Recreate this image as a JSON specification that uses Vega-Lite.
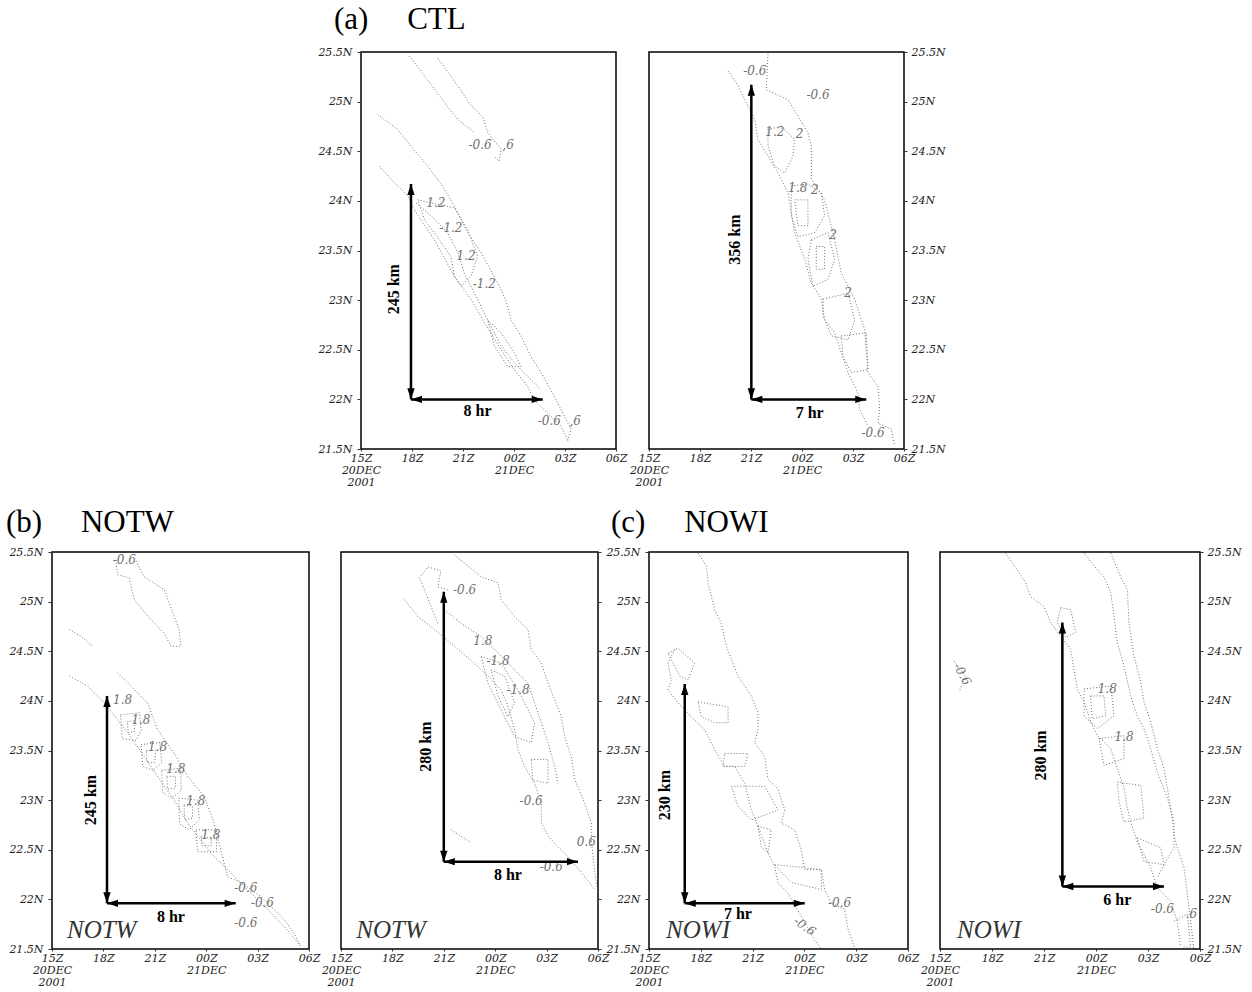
{
"$schema": "https://vega.github.io/schema/vega-lite/v6.json",
"background": "white",
"padding": {"left": 5, "top": 3, "right": 5, "bottom": 5},
"datasets": {
"lines": [
{"p":"p1","g":"1a","t":2.84,"lat":25.46},{"p":"p1","g":"1a","t":3.73,"lat":25.26},{"p":"p1","g":"1a","t":5.10,"lat":24.95},{"p":"p1","g":"1a","t":5.69,"lat":24.82},{"p":"p1","g":"1a","t":6.67,"lat":24.69},
{"p":"p1","g":"1b","t":4.51,"lat":25.44},{"p":"p1","g":"1b","t":5.69,"lat":25.16},{"p":"p1","g":"1b","t":6.47,"lat":24.96},{"p":"p1","g":"1b","t":7.16,"lat":24.85},{"p":"p1","g":"1b","t":7.45,"lat":24.69},{"p":"p1","g":"1b","t":8.24,"lat":24.52},{"p":"p1","g":"1b","t":8.14,"lat":24.40},{"p":"p1","g":"1b","t":7.84,"lat":24.45},
{"p":"p1","g":"1c","t":0.98,"lat":24.87},{"p":"p1","g":"1c","t":2.16,"lat":24.72},{"p":"p1","g":"1c","t":2.94,"lat":24.55},{"p":"p1","g":"1c","t":3.92,"lat":24.35},{"p":"p1","g":"1c","t":4.71,"lat":24.17},{"p":"p1","g":"1c","t":5.49,"lat":23.95},{"p":"p1","g":"1c","t":6.27,"lat":23.68},{"p":"p1","g":"1c","t":7.06,"lat":23.48},{"p":"p1","g":"1c","t":8.24,"lat":23.11},{"p":"p1","g":"1c","t":8.63,"lat":22.94},{"p":"p1","g":"1c","t":8.82,"lat":22.80},{"p":"p1","g":"1c","t":9.41,"lat":22.64},{"p":"p1","g":"1c","t":10.0,"lat":22.43},{"p":"p1","g":"1c","t":10.59,"lat":22.27},{"p":"p1","g":"1c","t":11.37,"lat":22.03},{"p":"p1","g":"1c","t":11.76,"lat":21.90},{"p":"p1","g":"1c","t":12.35,"lat":21.70},{"p":"p1","g":"1c","t":12.16,"lat":21.58},
{"p":"p1","g":"1d","t":1.08,"lat":24.35},{"p":"p1","g":"1d","t":1.76,"lat":24.22},{"p":"p1","g":"1d","t":2.75,"lat":24.05},{"p":"p1","g":"1d","t":3.24,"lat":23.88},{"p":"p1","g":"1d","t":4.31,"lat":23.61},{"p":"p1","g":"1d","t":5.49,"lat":23.24},{"p":"p1","g":"1d","t":6.47,"lat":23.01},{"p":"p1","g":"1d","t":7.16,"lat":22.80},{"p":"p1","g":"1d","t":8.24,"lat":22.50},{"p":"p1","g":"1d","t":9.02,"lat":22.30},{"p":"p1","g":"1d","t":9.8,"lat":22.13},{"p":"p1","g":"1d","t":10.2,"lat":21.99},{"p":"p1","g":"1d","t":10.98,"lat":21.86},{"p":"p1","g":"1d","t":11.76,"lat":21.73},{"p":"p1","g":"1d","t":12.16,"lat":21.59},
{"p":"p1","g":"1e","t":3.24,"lat":23.98},{"p":"p1","g":"1e","t":4.12,"lat":23.85},{"p":"p1","g":"1e","t":5.1,"lat":23.68},{"p":"p1","g":"1e","t":5.69,"lat":23.48},{"p":"p1","g":"1e","t":6.08,"lat":23.27},{"p":"p1","g":"1e","t":6.67,"lat":23.07},{"p":"p1","g":"1e","t":7.45,"lat":22.80},{"p":"p1","g":"1e","t":8.24,"lat":22.54},{"p":"p1","g":"1e","t":9.02,"lat":22.37},{"p":"p1","g":"1e","t":9.8,"lat":22.23},{"p":"p1","g":"1e","t":10.59,"lat":22.10},
{"p":"p1","g":"1f","t":3.33,"lat":24.01},{"p":"p1","g":"1f","t":5.49,"lat":23.93},{"p":"p1","g":"1f","t":6.27,"lat":23.71},{"p":"p1","g":"1f","t":6.86,"lat":23.44},{"p":"p1","g":"1f","t":6.47,"lat":23.24},{"p":"p1","g":"1f","t":5.88,"lat":23.14},{"p":"p1","g":"1f","t":5.49,"lat":23.24},{"p":"p1","g":"1f","t":5.29,"lat":23.44},{"p":"p1","g":"1f","t":4.31,"lat":23.68},{"p":"p1","g":"1f","t":3.73,"lat":23.81},{"p":"p1","g":"1f","t":3.33,"lat":24.01},
{"p":"p1","g":"1g","t":7.45,"lat":22.80},{"p":"p1","g":"1g","t":8.24,"lat":22.67},{"p":"p1","g":"1g","t":9.02,"lat":22.47},{"p":"p1","g":"1g","t":9.41,"lat":22.33},{"p":"p1","g":"1g","t":8.63,"lat":22.33},{"p":"p1","g":"1g","t":7.84,"lat":22.54},{"p":"p1","g":"1g","t":7.45,"lat":22.80},

{"p":"p2","g":"2a","t":4.65,"lat":25.31},{"p":"p2","g":"2a","t":5.24,"lat":25.16},{"p":"p2","g":"2a","t":5.63,"lat":25.02},{"p":"p2","g":"2a","t":6.22,"lat":24.82},{"p":"p2","g":"2a","t":6.41,"lat":24.62},{"p":"p2","g":"2a","t":7.0,"lat":24.45},{"p":"p2","g":"2a","t":7.59,"lat":24.28},{"p":"p2","g":"2a","t":8.18,"lat":24.08},{"p":"p2","g":"2a","t":8.37,"lat":23.88},{"p":"p2","g":"2a","t":8.57,"lat":23.68},{"p":"p2","g":"2a","t":9.16,"lat":23.41},{"p":"p2","g":"2a","t":9.55,"lat":23.17},{"p":"p2","g":"2a","t":10.14,"lat":23.01},{"p":"p2","g":"2a","t":10.33,"lat":22.80},{"p":"p2","g":"2a","t":10.92,"lat":22.67},{"p":"p2","g":"2a","t":11.31,"lat":22.47},{"p":"p2","g":"2a","t":11.71,"lat":22.27},{"p":"p2","g":"2a","t":12.29,"lat":22.06},{"p":"p2","g":"2a","t":12.39,"lat":21.90},{"p":"p2","g":"2a","t":12.88,"lat":21.73},
{"p":"p2","g":"2b","t":7.0,"lat":25.48},{"p":"p2","g":"2b","t":6.9,"lat":25.12},{"p":"p2","g":"2b","t":8.18,"lat":25.02},{"p":"p2","g":"2b","t":9.35,"lat":24.69},{"p":"p2","g":"2b","t":9.55,"lat":24.55},{"p":"p2","g":"2b","t":9.55,"lat":24.22},{"p":"p2","g":"2b","t":10.33,"lat":24.01},{"p":"p2","g":"2b","t":10.92,"lat":23.61},{"p":"p2","g":"2b","t":11.31,"lat":23.27},{"p":"p2","g":"2b","t":12.1,"lat":23.01},{"p":"p2","g":"2b","t":12.69,"lat":22.70},{"p":"p2","g":"2b","t":12.78,"lat":22.50},{"p":"p2","g":"2b","t":12.88,"lat":22.27},{"p":"p2","g":"2b","t":13.47,"lat":22.13},{"p":"p2","g":"2b","t":13.57,"lat":21.90},{"p":"p2","g":"2b","t":13.47,"lat":21.76},{"p":"p2","g":"2b","t":14.25,"lat":21.70},{"p":"p2","g":"2b","t":14.45,"lat":21.53},
{"p":"p2","g":"2c","t":7.0,"lat":24.72},{"p":"p2","g":"2c","t":7.78,"lat":24.75},{"p":"p2","g":"2c","t":8.57,"lat":24.62},{"p":"p2","g":"2c","t":8.47,"lat":24.45},{"p":"p2","g":"2c","t":7.98,"lat":24.28},{"p":"p2","g":"2c","t":7.39,"lat":24.35},{"p":"p2","g":"2c","t":7.0,"lat":24.55},{"p":"p2","g":"2c","t":7.0,"lat":24.72},
{"p":"p2","g":"2d","t":8.37,"lat":24.15},{"p":"p2","g":"2d","t":9.35,"lat":24.17},{"p":"p2","g":"2d","t":10.14,"lat":24.08},{"p":"p2","g":"2d","t":10.33,"lat":23.85},{"p":"p2","g":"2d","t":9.75,"lat":23.68},{"p":"p2","g":"2d","t":8.76,"lat":23.64},{"p":"p2","g":"2d","t":8.37,"lat":23.85},{"p":"p2","g":"2d","t":8.37,"lat":24.15},
{"p":"p2","g":"2e","t":8.57,"lat":24.01},{"p":"p2","g":"2e","t":9.35,"lat":24.01},{"p":"p2","g":"2e","t":9.35,"lat":23.75},{"p":"p2","g":"2e","t":8.76,"lat":23.75},{"p":"p2","g":"2e","t":8.57,"lat":24.01},
{"p":"p2","g":"2f","t":9.55,"lat":23.61},{"p":"p2","g":"2f","t":10.53,"lat":23.68},{"p":"p2","g":"2f","t":10.92,"lat":23.41},{"p":"p2","g":"2f","t":10.53,"lat":23.21},{"p":"p2","g":"2f","t":9.65,"lat":23.14},{"p":"p2","g":"2f","t":9.35,"lat":23.41},{"p":"p2","g":"2f","t":9.55,"lat":23.61},
{"p":"p2","g":"2g","t":9.84,"lat":23.54},{"p":"p2","g":"2g","t":10.33,"lat":23.54},{"p":"p2","g":"2g","t":10.33,"lat":23.31},{"p":"p2","g":"2g","t":9.84,"lat":23.31},{"p":"p2","g":"2g","t":9.84,"lat":23.54},
{"p":"p2","g":"2h","t":10.24,"lat":23.01},{"p":"p2","g":"2h","t":11.71,"lat":23.07},{"p":"p2","g":"2h","t":12.1,"lat":22.80},{"p":"p2","g":"2h","t":11.71,"lat":22.60},{"p":"p2","g":"2h","t":10.73,"lat":22.64},{"p":"p2","g":"2h","t":10.24,"lat":22.84},{"p":"p2","g":"2h","t":10.24,"lat":23.01},
{"p":"p2","g":"2i","t":11.31,"lat":22.64},{"p":"p2","g":"2i","t":12.78,"lat":22.67},{"p":"p2","g":"2i","t":12.88,"lat":22.30},{"p":"p2","g":"2i","t":11.9,"lat":22.27},{"p":"p2","g":"2i","t":11.41,"lat":22.43},{"p":"p2","g":"2i","t":11.31,"lat":22.64},

{"p":"p3","g":"3a","t":3.73,"lat":25.42},{"p":"p3","g":"3a","t":3.83,"lat":25.27},{"p":"p3","g":"3a","t":4.51,"lat":25.24},{"p":"p3","g":"3a","t":4.8,"lat":25.02},{"p":"p3","g":"3a","t":5.77,"lat":24.82},{"p":"p3","g":"3a","t":6.55,"lat":24.68},{"p":"p3","g":"3a","t":6.94,"lat":24.55},{"p":"p3","g":"3a","t":7.52,"lat":24.55},{"p":"p3","g":"3a","t":7.42,"lat":24.72},{"p":"p3","g":"3a","t":6.55,"lat":25.12},{"p":"p3","g":"3a","t":5.38,"lat":25.25},{"p":"p3","g":"3a","t":4.9,"lat":25.41},
{"p":"p3","g":"3b","t":1.01,"lat":24.72},{"p":"p3","g":"3b","t":1.69,"lat":24.65},{"p":"p3","g":"3b","t":2.37,"lat":24.55},
{"p":"p3","g":"3c","t":1.01,"lat":24.25},{"p":"p3","g":"3c","t":2.08,"lat":24.15},{"p":"p3","g":"3c","t":3.05,"lat":23.98},{"p":"p3","g":"3c","t":3.83,"lat":23.81},{"p":"p3","g":"3c","t":4.41,"lat":23.68},{"p":"p3","g":"3c","t":5.38,"lat":23.44},{"p":"p3","g":"3c","t":6.16,"lat":23.24},{"p":"p3","g":"3c","t":7.13,"lat":23.0},{"p":"p3","g":"3c","t":7.91,"lat":22.77},{"p":"p3","g":"3c","t":8.68,"lat":22.60},{"p":"p3","g":"3c","t":9.46,"lat":22.43},{"p":"p3","g":"3c","t":10.43,"lat":22.27},{"p":"p3","g":"3c","t":11.4,"lat":22.10},{"p":"p3","g":"3c","t":12.57,"lat":21.90},{"p":"p3","g":"3c","t":13.74,"lat":21.69},{"p":"p3","g":"3c","t":14.51,"lat":21.53},
{"p":"p3","g":"3d","t":3.83,"lat":24.28},{"p":"p3","g":"3d","t":4.6,"lat":24.15},{"p":"p3","g":"3d","t":5.58,"lat":23.98},{"p":"p3","g":"3d","t":6.16,"lat":23.71},{"p":"p3","g":"3d","t":7.13,"lat":23.47},{"p":"p3","g":"3d","t":7.91,"lat":23.24},{"p":"p3","g":"3d","t":8.88,"lat":23.04},{"p":"p3","g":"3d","t":9.46,"lat":22.77},{"p":"p3","g":"3d","t":9.85,"lat":22.50},{"p":"p3","g":"3d","t":10.24,"lat":22.23},{"p":"p3","g":"3d","t":11.02,"lat":22.17},{"p":"p3","g":"3d","t":12.18,"lat":22.03},{"p":"p3","g":"3d","t":13.54,"lat":21.80},{"p":"p3","g":"3d","t":14.12,"lat":21.66},{"p":"p3","g":"3d","t":14.51,"lat":21.53},
{"p":"p3","g":"3e","t":4.0,"lat":23.86},{"p":"p3","g":"3e","t":5.1,"lat":23.88},{"p":"p3","g":"3e","t":5.2,"lat":23.70},{"p":"p3","g":"3e","t":4.9,"lat":23.60},{"p":"p3","g":"3e","t":4.1,"lat":23.62},{"p":"p3","g":"3e","t":4.0,"lat":23.86},
{"p":"p3","g":"3f","t":4.4,"lat":23.79},{"p":"p3","g":"3f","t":4.85,"lat":23.80},{"p":"p3","g":"3f","t":4.8,"lat":23.69},{"p":"p3","g":"3f","t":4.45,"lat":23.68},{"p":"p3","g":"3f","t":4.4,"lat":23.79},
{"p":"p3","g":"3g","t":5.2,"lat":23.56},{"p":"p3","g":"3g","t":6.3,"lat":23.58},{"p":"p3","g":"3g","t":6.4,"lat":23.38},{"p":"p3","g":"3g","t":5.9,"lat":23.30},{"p":"p3","g":"3g","t":5.3,"lat":23.34},{"p":"p3","g":"3g","t":5.2,"lat":23.56},
{"p":"p3","g":"3h","t":5.5,"lat":23.50},{"p":"p3","g":"3h","t":6.05,"lat":23.50},{"p":"p3","g":"3h","t":6.0,"lat":23.38},{"p":"p3","g":"3h","t":5.55,"lat":23.38},{"p":"p3","g":"3h","t":5.5,"lat":23.50},
{"p":"p3","g":"3i","t":6.4,"lat":23.30},{"p":"p3","g":"3i","t":7.5,"lat":23.32},{"p":"p3","g":"3i","t":7.55,"lat":23.10},{"p":"p3","g":"3i","t":7.0,"lat":23.02},{"p":"p3","g":"3i","t":6.45,"lat":23.08},{"p":"p3","g":"3i","t":6.4,"lat":23.30},
{"p":"p3","g":"3j","t":6.7,"lat":23.24},{"p":"p3","g":"3j","t":7.2,"lat":23.24},{"p":"p3","g":"3j","t":7.2,"lat":23.12},{"p":"p3","g":"3j","t":6.75,"lat":23.11},{"p":"p3","g":"3j","t":6.7,"lat":23.24},
{"p":"p3","g":"3k","t":7.4,"lat":23.02},{"p":"p3","g":"3k","t":8.5,"lat":23.0},{"p":"p3","g":"3k","t":8.6,"lat":22.80},{"p":"p3","g":"3k","t":8.0,"lat":22.70},{"p":"p3","g":"3k","t":7.45,"lat":22.76},{"p":"p3","g":"3k","t":7.4,"lat":23.02},
{"p":"p3","g":"3l","t":7.7,"lat":22.95},{"p":"p3","g":"3l","t":8.2,"lat":22.94},{"p":"p3","g":"3l","t":8.2,"lat":22.82},{"p":"p3","g":"3l","t":7.75,"lat":22.80},{"p":"p3","g":"3l","t":7.7,"lat":22.95},
{"p":"p3","g":"3m","t":8.4,"lat":22.70},{"p":"p3","g":"3m","t":9.6,"lat":22.70},{"p":"p3","g":"3m","t":9.6,"lat":22.48},{"p":"p3","g":"3m","t":8.5,"lat":22.48},{"p":"p3","g":"3m","t":8.4,"lat":22.70},
{"p":"p3","g":"3n","t":8.7,"lat":22.63},{"p":"p3","g":"3n","t":9.3,"lat":22.62},{"p":"p3","g":"3n","t":9.3,"lat":22.54},{"p":"p3","g":"3n","t":8.75,"lat":22.54},{"p":"p3","g":"3n","t":8.7,"lat":22.63},

{"p":"p4","g":"4a","t":3.70,"lat":25.02},{"p":"p4","g":"4a","t":4.48,"lat":24.85},{"p":"p4","g":"4a","t":5.45,"lat":24.72},{"p":"p4","g":"4a","t":6.62,"lat":24.55},{"p":"p4","g":"4a","t":7.79,"lat":24.38},{"p":"p4","g":"4a","t":8.57,"lat":24.25},{"p":"p4","g":"4a","t":9.35,"lat":24.11},{"p":"p4","g":"4a","t":9.74,"lat":23.95},{"p":"p4","g":"4a","t":10.13,"lat":23.71},{"p":"p4","g":"4a","t":10.33,"lat":23.51},{"p":"p4","g":"4a","t":10.71,"lat":23.34},{"p":"p4","g":"4a","t":11.3,"lat":23.17},{"p":"p4","g":"4a","t":11.69,"lat":22.97},{"p":"p4","g":"4a","t":11.69,"lat":22.77},{"p":"p4","g":"4a","t":12.08,"lat":22.64},{"p":"p4","g":"4a","t":12.66,"lat":22.53},{"p":"p4","g":"4a","t":13.25,"lat":22.43},{"p":"p4","g":"4a","t":14.03,"lat":22.27},{"p":"p4","g":"4a","t":14.81,"lat":22.10},
{"p":"p4","g":"4b","t":6.23,"lat":25.12},{"p":"p4","g":"4b","t":5.65,"lat":25.15},{"p":"p4","g":"4b","t":5.84,"lat":25.31},{"p":"p4","g":"4b","t":5.07,"lat":25.35},{"p":"p4","g":"4b","t":4.58,"lat":25.24},{"p":"p4","g":"4b","t":4.87,"lat":25.12},{"p":"p4","g":"4b","t":5.26,"lat":24.95},{"p":"p4","g":"4b","t":5.65,"lat":24.78},
{"p":"p4","g":"4c","t":6.62,"lat":25.47},{"p":"p4","g":"4c","t":7.4,"lat":25.36},{"p":"p4","g":"4c","t":8.18,"lat":25.25},{"p":"p4","g":"4c","t":9.16,"lat":25.19},{"p":"p4","g":"4c","t":9.35,"lat":25.02},{"p":"p4","g":"4c","t":10.13,"lat":24.85},{"p":"p4","g":"4c","t":10.91,"lat":24.72},{"p":"p4","g":"4c","t":11.1,"lat":24.52},{"p":"p4","g":"4c","t":11.69,"lat":24.38},{"p":"p4","g":"4c","t":12.08,"lat":24.18},{"p":"p4","g":"4c","t":12.47,"lat":24.01},{"p":"p4","g":"4c","t":12.86,"lat":23.84},{"p":"p4","g":"4c","t":13.05,"lat":23.64},{"p":"p4","g":"4c","t":13.44,"lat":23.44},{"p":"p4","g":"4c","t":13.64,"lat":23.21},{"p":"p4","g":"4c","t":14.22,"lat":22.97},{"p":"p4","g":"4c","t":14.61,"lat":22.77},{"p":"p4","g":"4c","t":14.61,"lat":22.60},{"p":"p4","g":"4c","t":14.81,"lat":22.27},{"p":"p4","g":"4c","t":15.0,"lat":22.06},
{"p":"p4","g":"4d","t":6.04,"lat":24.92},{"p":"p4","g":"4d","t":7.01,"lat":24.78},{"p":"p4","g":"4d","t":8.18,"lat":24.65},{"p":"p4","g":"4d","t":8.96,"lat":24.52},{"p":"p4","g":"4d","t":9.74,"lat":24.38},{"p":"p4","g":"4d","t":10.91,"lat":24.18},{"p":"p4","g":"4d","t":11.3,"lat":23.98},{"p":"p4","g":"4d","t":11.69,"lat":23.78},{"p":"p4","g":"4d","t":12.08,"lat":23.58},{"p":"p4","g":"4d","t":12.47,"lat":23.34},{"p":"p4","g":"4d","t":12.66,"lat":23.17},
{"p":"p4","g":"4e","t":8.18,"lat":24.45},{"p":"p4","g":"4e","t":9.35,"lat":24.38},{"p":"p4","g":"4e","t":10.33,"lat":24.11},{"p":"p4","g":"4e","t":11.3,"lat":23.78},{"p":"p4","g":"4e","t":11.1,"lat":23.58},{"p":"p4","g":"4e","t":10.13,"lat":23.64},{"p":"p4","g":"4e","t":9.35,"lat":23.91},{"p":"p4","g":"4e","t":8.57,"lat":24.18},{"p":"p4","g":"4e","t":8.18,"lat":24.45},
{"p":"p4","g":"4f","t":8.77,"lat":24.31},{"p":"p4","g":"4f","t":9.55,"lat":24.25},{"p":"p4","g":"4f","t":10.13,"lat":23.98},{"p":"p4","g":"4f","t":9.74,"lat":23.84},{"p":"p4","g":"4f","t":9.16,"lat":24.05},{"p":"p4","g":"4f","t":8.77,"lat":24.31},
{"p":"p4","g":"4g","t":11.1,"lat":23.41},{"p":"p4","g":"4g","t":12.08,"lat":23.41},{"p":"p4","g":"4g","t":12.08,"lat":23.17},{"p":"p4","g":"4g","t":11.2,"lat":23.20},{"p":"p4","g":"4g","t":11.1,"lat":23.41},
{"p":"p4","g":"4h","t":6.43,"lat":22.70},{"p":"p4","g":"4h","t":7.6,"lat":22.57},

{"p":"p5","g":"5a","t":2.84,"lat":25.49},{"p":"p5","g":"5a","t":3.32,"lat":25.36},{"p":"p5","g":"5a","t":3.42,"lat":25.19},{"p":"p5","g":"5a","t":3.8,"lat":24.92},{"p":"p5","g":"5a","t":4.19,"lat":24.78},{"p":"p5","g":"5a","t":4.48,"lat":24.55},{"p":"p5","g":"5a","t":4.86,"lat":24.38},{"p":"p5","g":"5a","t":5.15,"lat":24.25},{"p":"p5","g":"5a","t":5.93,"lat":24.05},{"p":"p5","g":"5a","t":6.31,"lat":23.88},{"p":"p5","g":"5a","t":6.31,"lat":23.71},{"p":"p5","g":"5a","t":6.12,"lat":23.58},{"p":"p5","g":"5a","t":6.7,"lat":23.44},{"p":"p5","g":"5a","t":6.89,"lat":23.21},{"p":"p5","g":"5a","t":7.47,"lat":23.11},{"p":"p5","g":"5a","t":7.86,"lat":22.90},{"p":"p5","g":"5a","t":7.66,"lat":22.77},{"p":"p5","g":"5a","t":8.44,"lat":22.70},{"p":"p5","g":"5a","t":8.82,"lat":22.50},{"p":"p5","g":"5a","t":9.02,"lat":22.30},{"p":"p5","g":"5a","t":9.98,"lat":22.30},{"p":"p5","g":"5a","t":10.17,"lat":22.10},{"p":"p5","g":"5a","t":10.56,"lat":21.96},{"p":"p5","g":"5a","t":11.33,"lat":21.90},{"p":"p5","g":"5a","t":11.53,"lat":21.70},{"p":"p5","g":"5a","t":11.91,"lat":21.51},
{"p":"p5","g":"5b","t":1.49,"lat":24.52},{"p":"p5","g":"5b","t":1.1,"lat":24.38},{"p":"p5","g":"5b","t":1.29,"lat":24.21},{"p":"p5","g":"5b","t":1.1,"lat":24.11},{"p":"p5","g":"5b","t":1.68,"lat":23.98},{"p":"p5","g":"5b","t":2.45,"lat":23.84},{"p":"p5","g":"5b","t":3.22,"lat":23.71},{"p":"p5","g":"5b","t":3.8,"lat":23.51},{"p":"p5","g":"5b","t":4.38,"lat":23.34},{"p":"p5","g":"5b","t":4.96,"lat":23.34},{"p":"p5","g":"5b","t":5.54,"lat":23.17},{"p":"p5","g":"5b","t":5.93,"lat":22.90},{"p":"p5","g":"5b","t":6.31,"lat":22.74},{"p":"p5","g":"5b","t":6.89,"lat":22.47},{"p":"p5","g":"5b","t":7.28,"lat":22.33},{"p":"p5","g":"5b","t":7.47,"lat":22.17},{"p":"p5","g":"5b","t":8.05,"lat":22.06},{"p":"p5","g":"5b","t":8.82,"lat":21.83},{"p":"p5","g":"5b","t":9.59,"lat":21.59},{"p":"p5","g":"5b","t":9.98,"lat":21.50},
{"p":"p5","g":"5c","t":2.84,"lat":23.99},{"p":"p5","g":"5c","t":4.58,"lat":23.94},{"p":"p5","g":"5c","t":4.58,"lat":23.78},{"p":"p5","g":"5c","t":3.8,"lat":23.78},{"p":"p5","g":"5c","t":3.03,"lat":23.84},{"p":"p5","g":"5c","t":2.84,"lat":23.99},
{"p":"p5","g":"5d","t":4.38,"lat":23.47},{"p":"p5","g":"5d","t":5.73,"lat":23.47},{"p":"p5","g":"5d","t":5.54,"lat":23.34},{"p":"p5","g":"5d","t":4.28,"lat":23.34},{"p":"p5","g":"5d","t":4.38,"lat":23.47},
{"p":"p5","g":"5e","t":4.77,"lat":23.14},{"p":"p5","g":"5e","t":6.7,"lat":23.14},{"p":"p5","g":"5e","t":7.47,"lat":22.90},{"p":"p5","g":"5e","t":5.93,"lat":22.80},{"p":"p5","g":"5e","t":5.15,"lat":22.94},{"p":"p5","g":"5e","t":4.77,"lat":23.14},
{"p":"p5","g":"5f","t":6.31,"lat":22.74},{"p":"p5","g":"5f","t":7.08,"lat":22.70},{"p":"p5","g":"5f","t":6.89,"lat":22.47},{"p":"p5","g":"5f","t":6.51,"lat":22.53},{"p":"p5","g":"5f","t":6.31,"lat":22.74},
{"p":"p5","g":"5g","t":7.28,"lat":22.35},{"p":"p5","g":"5g","t":9.98,"lat":22.30},{"p":"p5","g":"5g","t":9.98,"lat":22.10},{"p":"p5","g":"5g","t":8.24,"lat":22.17},{"p":"p5","g":"5g","t":7.28,"lat":22.35},
{"p":"p5","g":"5h","t":1.1,"lat":24.48},{"p":"p5","g":"5h","t":1.68,"lat":24.53},{"p":"p5","g":"5h","t":2.64,"lat":24.38},{"p":"p5","g":"5h","t":2.26,"lat":24.21},{"p":"p5","g":"5h","t":1.78,"lat":24.25},{"p":"p5","g":"5h","t":1.1,"lat":24.48},

{"p":"p6","g":"6a","t":3.79,"lat":25.49},{"p":"p6","g":"6a","t":4.46,"lat":25.32},{"p":"p6","g":"6a","t":4.94,"lat":25.19},{"p":"p6","g":"6a","t":5.23,"lat":25.05},{"p":"p6","g":"6a","t":6.0,"lat":24.95},{"p":"p6","g":"6a","t":6.38,"lat":24.79},{"p":"p6","g":"6a","t":6.96,"lat":24.65},{"p":"p6","g":"6a","t":7.54,"lat":24.52},{"p":"p6","g":"6a","t":7.73,"lat":24.32},{"p":"p6","g":"6a","t":7.92,"lat":24.12},{"p":"p6","g":"6a","t":8.31,"lat":23.99},{"p":"p6","g":"6a","t":8.69,"lat":23.79},{"p":"p6","g":"6a","t":9.08,"lat":23.65},{"p":"p6","g":"6a","t":9.85,"lat":23.52},{"p":"p6","g":"6a","t":10.23,"lat":23.32},{"p":"p6","g":"6a","t":10.62,"lat":23.12},{"p":"p6","g":"6a","t":10.81,"lat":22.92},{"p":"p6","g":"6a","t":11.0,"lat":22.78},{"p":"p6","g":"6a","t":11.38,"lat":22.58},{"p":"p6","g":"6a","t":11.77,"lat":22.45},{"p":"p6","g":"6a","t":12.15,"lat":22.32},{"p":"p6","g":"6a","t":12.54,"lat":22.12},{"p":"p6","g":"6a","t":13.31,"lat":21.98},{"p":"p6","g":"6a","t":13.69,"lat":21.78},{"p":"p6","g":"6a","t":13.88,"lat":21.52},
{"p":"p6","g":"6b","t":9.85,"lat":25.49},{"p":"p6","g":"6b","t":10.42,"lat":25.25},{"p":"p6","g":"6b","t":10.81,"lat":25.12},{"p":"p6","g":"6b","t":10.9,"lat":24.79},{"p":"p6","g":"6b","t":11.19,"lat":24.45},{"p":"p6","g":"6b","t":11.58,"lat":24.19},{"p":"p6","g":"6b","t":11.77,"lat":23.99},{"p":"p6","g":"6b","t":12.15,"lat":23.79},{"p":"p6","g":"6b","t":12.54,"lat":23.52},{"p":"p6","g":"6b","t":12.92,"lat":23.32},{"p":"p6","g":"6b","t":13.12,"lat":23.12},{"p":"p6","g":"6b","t":13.31,"lat":22.92},{"p":"p6","g":"6b","t":13.5,"lat":22.65},{"p":"p6","g":"6b","t":13.69,"lat":22.52},{"p":"p6","g":"6b","t":14.08,"lat":22.32},{"p":"p6","g":"6b","t":14.27,"lat":22.05},{"p":"p6","g":"6b","t":14.46,"lat":21.78},{"p":"p6","g":"6b","t":14.65,"lat":21.5},
{"p":"p6","g":"6c","t":8.31,"lat":25.49},{"p":"p6","g":"6c","t":9.08,"lat":25.32},{"p":"p6","g":"6c","t":9.46,"lat":25.25},{"p":"p6","g":"6c","t":9.85,"lat":25.09},{"p":"p6","g":"6c","t":10.04,"lat":24.85},{"p":"p6","g":"6c","t":10.23,"lat":24.59},{"p":"p6","g":"6c","t":10.62,"lat":24.35},{"p":"p6","g":"6c","t":11.0,"lat":24.05},{"p":"p6","g":"6c","t":11.38,"lat":23.85},{"p":"p6","g":"6c","t":11.77,"lat":23.72},{"p":"p6","g":"6c","t":12.15,"lat":23.52},{"p":"p6","g":"6c","t":12.54,"lat":23.28},{"p":"p6","g":"6c","t":13.12,"lat":23.02},{"p":"p6","g":"6c","t":13.5,"lat":22.78},{"p":"p6","g":"6c","t":13.5,"lat":22.52},{"p":"p6","g":"6c","t":12.92,"lat":22.35},{"p":"p6","g":"6c","t":12.54,"lat":22.22},
{"p":"p6","g":"6d","t":8.31,"lat":24.12},{"p":"p6","g":"6d","t":9.85,"lat":24.15},{"p":"p6","g":"6d","t":10.04,"lat":23.85},{"p":"p6","g":"6d","t":9.08,"lat":23.72},{"p":"p6","g":"6d","t":8.31,"lat":23.85},{"p":"p6","g":"6d","t":8.31,"lat":24.12},
{"p":"p6","g":"6e","t":8.69,"lat":24.05},{"p":"p6","g":"6e","t":9.46,"lat":24.05},{"p":"p6","g":"6e","t":9.56,"lat":23.85},{"p":"p6","g":"6e","t":8.77,"lat":23.82},{"p":"p6","g":"6e","t":8.69,"lat":24.05},
{"p":"p6","g":"6f","t":9.17,"lat":23.62},{"p":"p6","g":"6f","t":10.62,"lat":23.65},{"p":"p6","g":"6f","t":10.62,"lat":23.42},{"p":"p6","g":"6f","t":9.46,"lat":23.35},{"p":"p6","g":"6f","t":9.17,"lat":23.62},
{"p":"p6","g":"6g","t":10.23,"lat":23.18},{"p":"p6","g":"6g","t":11.58,"lat":23.15},{"p":"p6","g":"6g","t":11.77,"lat":22.82},{"p":"p6","g":"6g","t":10.62,"lat":22.78},{"p":"p6","g":"6g","t":10.33,"lat":22.98},{"p":"p6","g":"6g","t":10.23,"lat":23.18},
{"p":"p6","g":"6h","t":11.38,"lat":22.62},{"p":"p6","g":"6h","t":12.73,"lat":22.52},{"p":"p6","g":"6h","t":12.92,"lat":22.35},{"p":"p6","g":"6h","t":11.77,"lat":22.38},{"p":"p6","g":"6h","t":11.38,"lat":22.62},
{"p":"p6","g":"6i","t":6.96,"lat":24.94},{"p":"p6","g":"6i","t":7.54,"lat":24.92},{"p":"p6","g":"6i","t":7.83,"lat":24.69},{"p":"p6","g":"6i","t":7.25,"lat":24.64},{"p":"p6","g":"6i","t":6.77,"lat":24.79},{"p":"p6","g":"6i","t":6.96,"lat":24.94},
{"p":"p6","g":"6j","t":13.5,"lat":21.78},{"p":"p6","g":"6j","t":14.27,"lat":21.85},{"p":"p6","g":"6j","t":14.46,"lat":21.52},{"p":"p6","g":"6j","t":13.98,"lat":21.52},
{"p":"p6","g":"6k","t":0.81,"lat":24.40},{"p":"p6","g":"6k","t":1.48,"lat":24.25},{"p":"p6","g":"6k","t":1.10,"lat":24.09}
],
"labels": [
{"p":"p1","k":"c","t":7.0,"lat":24.56,"s":"-0.6"},{"p":"p1","k":"c","t":8.65,"lat":24.56,"s":",6"},{"p":"p1","k":"c","t":4.41,"lat":23.98,"s":"1.2"},{"p":"p1","k":"c","t":5.29,"lat":23.73,"s":"-1.2"},{"p":"p1","k":"c","t":6.18,"lat":23.44,"s":"1.2"},{"p":"p1","k":"c","t":7.25,"lat":23.16,"s":"-1.2"},{"p":"p1","k":"c","t":11.08,"lat":21.78,"s":"-0.6"},{"p":"p1","k":"c","t":12.6,"lat":21.78,"s":",6"},
{"p":"p1","k":"km","t":1.96,"lat":23.11,"s":"245 km"},{"p":"p1","k":"hr","t":6.86,"lat":21.88,"s":"8 hr"},
{"p":"p2","k":"c","t":6.22,"lat":25.31,"s":"-0.6"},{"p":"p2","k":"c","t":9.94,"lat":25.07,"s":"-0.6"},{"p":"p2","k":"c","t":7.4,"lat":24.69,"s":"1.2"},{"p":"p2","k":"c","t":8.86,"lat":24.67,"s":"2"},{"p":"p2","k":"c","t":8.76,"lat":24.13,"s":"1.8"},{"p":"p2","k":"c","t":9.75,"lat":24.11,"s":"2"},{"p":"p2","k":"c","t":10.82,"lat":23.66,"s":"2"},{"p":"p2","k":"c","t":11.71,"lat":23.07,"s":"2"},{"p":"p2","k":"c","t":13.18,"lat":21.66,"s":"-0.6"},
{"p":"p2","k":"km","t":5.04,"lat":23.61,"s":"356 km"},{"p":"p2","k":"hr","t":9.45,"lat":21.86,"s":"7 hr"},
{"p":"p3","k":"c","t":4.22,"lat":25.42,"s":"-0.6"},{"p":"p3","k":"c","t":4.12,"lat":24.01,"s":"1.8"},{"p":"p3","k":"c","t":5.19,"lat":23.81,"s":"1.8"},{"p":"p3","k":"c","t":6.16,"lat":23.54,"s":"1.8"},{"p":"p3","k":"c","t":7.23,"lat":23.31,"s":"1.8"},{"p":"p3","k":"c","t":8.39,"lat":22.99,"s":"1.8"},{"p":"p3","k":"c","t":9.27,"lat":22.65,"s":"1.8"},{"p":"p3","k":"c","t":11.31,"lat":22.11,"s":"-0.6"},{"p":"p3","k":"c","t":12.28,"lat":21.96,"s":"-0.6"},{"p":"p3","k":"c","t":11.31,"lat":21.76,"s":"-0.6"},
{"p":"p3","k":"km","t":2.27,"lat":23.0,"s":"245 km"},{"p":"p3","k":"hr","t":6.94,"lat":21.82,"s":"8 hr"},{"p":"p3","k":"nm","t":2.9,"lat":21.69,"s":"NOTW"},
{"p":"p4","k":"c","t":7.21,"lat":25.12,"s":"-0.6"},{"p":"p4","k":"c","t":8.28,"lat":24.6,"s":"1.8"},{"p":"p4","k":"c","t":9.16,"lat":24.40,"s":"-1.8"},{"p":"p4","k":"c","t":10.33,"lat":24.11,"s":"-1.8"},{"p":"p4","k":"c","t":11.1,"lat":22.99,"s":"-0.6"},{"p":"p4","k":"c","t":14.32,"lat":22.58,"s":"0.6"},{"p":"p4","k":"c","t":12.27,"lat":22.33,"s":"-0.6"},
{"p":"p4","k":"km","t":4.97,"lat":23.54,"s":"280 km"},{"p":"p4","k":"hr","t":9.74,"lat":22.25,"s":"8 hr"},{"p":"p4","k":"nm","t":2.92,"lat":21.69,"s":"NOTW"},
{"p":"p5","k":"c","t":11.04,"lat":21.96,"s":"-0.6"},{"p":"p5","k":"r30","t":9.02,"lat":21.73,"s":"-0.6"},
{"p":"p5","k":"km","t":0.91,"lat":23.05,"s":"230 km"},{"p":"p5","k":"hr","t":5.15,"lat":21.85,"s":"7 hr"},{"p":"p5","k":"nm","t":2.84,"lat":21.69,"s":"NOWI"},
{"p":"p6","k":"c","t":9.65,"lat":24.12,"s":"1.8"},{"p":"p6","k":"c","t":10.62,"lat":23.64,"s":"1.8"},{"p":"p6","k":"c","t":12.83,"lat":21.90,"s":"-0.6"},{"p":"p6","k":"c","t":14.5,"lat":21.85,"s":".6"},{"p":"p6","k":"r60","t":1.29,"lat":24.27,"s":"-0.6"},
{"p":"p6","k":"km","t":5.81,"lat":23.45,"s":"280 km"},{"p":"p6","k":"hr","t":10.23,"lat":21.99,"s":"6 hr"},{"p":"p6","k":"nm","t":2.83,"lat":21.69,"s":"NOWI"}
],
"arrows": [
{"p":"p1","t":2.94,"lat":22.0,"t2":10.69,"lat2":24.17},
{"p":"p2","t":6.02,"lat":22.0,"t2":12.78,"lat2":25.17},
{"p":"p3","t":3.21,"lat":21.96,"t2":10.72,"lat2":24.05},
{"p":"p4","t":6.0,"lat":22.38,"t2":13.83,"lat2":25.1},
{"p":"p5","t":2.07,"lat":21.96,"t2":9.02,"lat2":24.17},
{"p":"p6","t":7.06,"lat":22.13,"t2":12.92,"lat2":24.79}
]
},
"vconcat": [
{"hconcat": [
 {"width": 299, "height": 397, "data": {"values": [{"a": 1}]}, "mark": {"type": "point", "opacity": 0}, "encoding": {}, "view": {"stroke": null}},
 {"width": 255, "height": 397,
  "title": {"text": "(a)\u00a0\u00a0\u00a0\u00a0\u00a0CTL", "anchor": "start", "frame": "group", "dx": -27, "offset": -14, "baseline": "alphabetic", "font": "Liberation Serif", "fontSize": 31, "fontWeight": "normal", "color": "#000"},
  "encoding": {
   "x": {"field": "t", "type": "quantitative", "scale": {"domain": [0, 15], "nice": false, "zero": false}, "axis": {"values": [0, 3, 6, 9, 12, 15], "title": null, "labelExpr": "datum.value == 0 ? ['15Z','20DEC','2001'] : datum.value == 3 ? '18Z' : datum.value == 6 ? '21Z' : datum.value == 9 ? ['00Z','21DEC'] : datum.value == 12 ? '03Z' : '06Z'"}},
   "y": {"field": "lat", "type": "quantitative", "scale": {"domain": [21.5, 25.5], "nice": false, "zero": false}, "axis": {"orient": "left", "values": [21.5, 22, 22.5, 23, 23.5, 24, 24.5, 25, 25.5], "title": null, "labelExpr": "datum.value + 'N'", "tickSize": 4, "labelPadding": 5}}
  },
  "layer": [
   {"data": {"name": "lines"}, "transform": [{"filter": "datum.p == 'p1'"}], "mark": {"type": "line", "color": "#707070", "strokeWidth": 1, "strokeDash": [1, 2]}, "encoding": {"detail": {"field": "g"}, "order": {"value": null}}},
   {"data": {"name": "labels"}, "transform": [{"filter": "datum.p == 'p1' && datum.k == 'c'"}], "mark": {"type": "text", "font": "DejaVu Serif", "fontStyle": "italic", "fontSize": 12, "color": "#707070"}, "encoding": {"text": {"field": "s"}}},
   {"data": {"name": "arrows"}, "transform": [{"filter": "datum.p == 'p1'"}], "mark": {"type": "rule", "color": "#000", "strokeWidth": 2.5}, "encoding": {"y2": {"field": "lat2"}}},
   {"data": {"name": "arrows"}, "transform": [{"filter": "datum.p == 'p1'"}], "mark": {"type": "rule", "color": "#000", "strokeWidth": 2.5}, "encoding": {"x2": {"field": "t2"}}},
   {"data": {"name": "arrows"}, "transform": [{"filter": "datum.p == 'p1'"}], "mark": {"type": "point", "shape": "M0,0L-0.6,1.8L0.6,1.8Z", "filled": true, "opacity": 1, "color": "#000", "size": 150}, "encoding": {"y": {"field": "lat2", "type": "quantitative"}}},
   {"data": {"name": "arrows"}, "transform": [{"filter": "datum.p == 'p1'"}], "mark": {"type": "point", "shape": "M0,0L-0.6,-1.8L0.6,-1.8Z", "filled": true, "opacity": 1, "color": "#000", "size": 150}},
   {"data": {"name": "arrows"}, "transform": [{"filter": "datum.p == 'p1'"}], "mark": {"type": "point", "shape": "M0,0L1.8,-0.6L1.8,0.6Z", "filled": true, "opacity": 1, "color": "#000", "size": 150}},
   {"data": {"name": "arrows"}, "transform": [{"filter": "datum.p == 'p1'"}], "mark": {"type": "point", "shape": "M0,0L-1.8,-0.6L-1.8,0.6Z", "filled": true, "opacity": 1, "color": "#000", "size": 150}, "encoding": {"x": {"field": "t2", "type": "quantitative"}}},
   {"data": {"name": "labels"}, "transform": [{"filter": "datum.p == 'p1' && datum.k == 'km'"}], "mark": {"type": "text", "angle": 270, "font": "Liberation Serif", "fontWeight": "bold", "fontSize": 16, "color": "#000"}, "encoding": {"text": {"field": "s"}}},
   {"data": {"name": "labels"}, "transform": [{"filter": "datum.p == 'p1' && datum.k == 'hr'"}], "mark": {"type": "text", "font": "Liberation Serif", "fontWeight": "bold", "fontSize": 16, "color": "#000"}, "encoding": {"text": {"field": "s"}}}
  ]
 },
 {"width": 13, "height": 397, "data": {"values": [{"a": 1}]}, "mark": {"type": "point", "opacity": 0}, "encoding": {}, "view": {"stroke": null}},
 {"width": 255, "height": 397,
  "encoding": {
   "x": {"field": "t", "type": "quantitative", "scale": {"domain": [0, 15], "nice": false, "zero": false}, "axis": {"values": [0, 3, 6, 9, 12, 15], "title": null, "labelExpr": "datum.value == 0 ? ['15Z','20DEC','2001'] : datum.value == 3 ? '18Z' : datum.value == 6 ? '21Z' : datum.value == 9 ? ['00Z','21DEC'] : datum.value == 12 ? '03Z' : '06Z'"}},
   "y": {"field": "lat", "type": "quantitative", "scale": {"domain": [21.5, 25.5], "nice": false, "zero": false}, "axis": {"orient": "right", "values": [21.5, 22, 22.5, 23, 23.5, 24, 24.5, 25, 25.5], "title": null, "labelExpr": "datum.value + 'N'", "tickSize": 3, "labelPadding": 4}}
  },
  "layer": [
   {"data": {"name": "lines"}, "transform": [{"filter": "datum.p == 'p2'"}], "mark": {"type": "line", "color": "#707070", "strokeWidth": 1, "strokeDash": [1, 2]}, "encoding": {"detail": {"field": "g"}, "order": {"value": null}}},
   {"data": {"name": "labels"}, "transform": [{"filter": "datum.p == 'p2' && datum.k == 'c'"}], "mark": {"type": "text", "font": "DejaVu Serif", "fontStyle": "italic", "fontSize": 12, "color": "#707070"}, "encoding": {"text": {"field": "s"}}},
   {"data": {"name": "arrows"}, "transform": [{"filter": "datum.p == 'p2'"}], "mark": {"type": "rule", "color": "#000", "strokeWidth": 2.5}, "encoding": {"y2": {"field": "lat2"}}},
   {"data": {"name": "arrows"}, "transform": [{"filter": "datum.p == 'p2'"}], "mark": {"type": "rule", "color": "#000", "strokeWidth": 2.5}, "encoding": {"x2": {"field": "t2"}}},
   {"data": {"name": "arrows"}, "transform": [{"filter": "datum.p == 'p2'"}], "mark": {"type": "point", "shape": "M0,0L-0.6,1.8L0.6,1.8Z", "filled": true, "opacity": 1, "color": "#000", "size": 150}, "encoding": {"y": {"field": "lat2", "type": "quantitative"}}},
   {"data": {"name": "arrows"}, "transform": [{"filter": "datum.p == 'p2'"}], "mark": {"type": "point", "shape": "M0,0L-0.6,-1.8L0.6,-1.8Z", "filled": true, "opacity": 1, "color": "#000", "size": 150}},
   {"data": {"name": "arrows"}, "transform": [{"filter": "datum.p == 'p2'"}], "mark": {"type": "point", "shape": "M0,0L1.8,-0.6L1.8,0.6Z", "filled": true, "opacity": 1, "color": "#000", "size": 150}},
   {"data": {"name": "arrows"}, "transform": [{"filter": "datum.p == 'p2'"}], "mark": {"type": "point", "shape": "M0,0L-1.8,-0.6L-1.8,0.6Z", "filled": true, "opacity": 1, "color": "#000", "size": 150}, "encoding": {"x": {"field": "t2", "type": "quantitative"}}},
   {"data": {"name": "labels"}, "transform": [{"filter": "datum.p == 'p2' && datum.k == 'km'"}], "mark": {"type": "text", "angle": 270, "font": "Liberation Serif", "fontWeight": "bold", "fontSize": 16, "color": "#000"}, "encoding": {"text": {"field": "s"}}},
   {"data": {"name": "labels"}, "transform": [{"filter": "datum.p == 'p2' && datum.k == 'hr'"}], "mark": {"type": "text", "font": "Liberation Serif", "fontWeight": "bold", "fontSize": 16, "color": "#000"}, "encoding": {"text": {"field": "s"}}}
  ]
 }
], "spacing": 10, "bounds": "flush"},
{"hconcat": [
 {"width": 257, "height": 397,
  "title": {"text": "(b)\u00a0\u00a0\u00a0\u00a0\u00a0NOTW", "anchor": "start", "frame": "group", "dx": -46, "offset": -17, "baseline": "alphabetic", "font": "Liberation Serif", "fontSize": 31, "fontWeight": "normal", "color": "#000"},
  "encoding": {
   "x": {"field": "t", "type": "quantitative", "scale": {"domain": [0, 15], "nice": false, "zero": false}, "axis": {"values": [0, 3, 6, 9, 12, 15], "title": null, "labelExpr": "datum.value == 0 ? ['15Z','20DEC','2001'] : datum.value == 3 ? '18Z' : datum.value == 6 ? '21Z' : datum.value == 9 ? ['00Z','21DEC'] : datum.value == 12 ? '03Z' : '06Z'"}},
   "y": {"field": "lat", "type": "quantitative", "scale": {"domain": [21.5, 25.5], "nice": false, "zero": false}, "axis": {"orient": "left", "values": [21.5, 22, 22.5, 23, 23.5, 24, 24.5, 25, 25.5], "title": null, "labelExpr": "datum.value + 'N'", "tickSize": 4, "labelPadding": 5}}
  },
  "layer": [
   {"data": {"name": "lines"}, "transform": [{"filter": "datum.p == 'p3'"}], "mark": {"type": "line", "color": "#707070", "strokeWidth": 1, "strokeDash": [1, 2]}, "encoding": {"detail": {"field": "g"}, "order": {"value": null}}},
   {"data": {"name": "labels"}, "transform": [{"filter": "datum.p == 'p3' && datum.k == 'c'"}], "mark": {"type": "text", "font": "DejaVu Serif", "fontStyle": "italic", "fontSize": 12, "color": "#707070"}, "encoding": {"text": {"field": "s"}}},
   {"data": {"name": "arrows"}, "transform": [{"filter": "datum.p == 'p3'"}], "mark": {"type": "rule", "color": "#000", "strokeWidth": 2.5}, "encoding": {"y2": {"field": "lat2"}}},
   {"data": {"name": "arrows"}, "transform": [{"filter": "datum.p == 'p3'"}], "mark": {"type": "rule", "color": "#000", "strokeWidth": 2.5}, "encoding": {"x2": {"field": "t2"}}},
   {"data": {"name": "arrows"}, "transform": [{"filter": "datum.p == 'p3'"}], "mark": {"type": "point", "shape": "M0,0L-0.6,1.8L0.6,1.8Z", "filled": true, "opacity": 1, "color": "#000", "size": 150}, "encoding": {"y": {"field": "lat2", "type": "quantitative"}}},
   {"data": {"name": "arrows"}, "transform": [{"filter": "datum.p == 'p3'"}], "mark": {"type": "point", "shape": "M0,0L-0.6,-1.8L0.6,-1.8Z", "filled": true, "opacity": 1, "color": "#000", "size": 150}},
   {"data": {"name": "arrows"}, "transform": [{"filter": "datum.p == 'p3'"}], "mark": {"type": "point", "shape": "M0,0L1.8,-0.6L1.8,0.6Z", "filled": true, "opacity": 1, "color": "#000", "size": 150}},
   {"data": {"name": "arrows"}, "transform": [{"filter": "datum.p == 'p3'"}], "mark": {"type": "point", "shape": "M0,0L-1.8,-0.6L-1.8,0.6Z", "filled": true, "opacity": 1, "color": "#000", "size": 150}, "encoding": {"x": {"field": "t2", "type": "quantitative"}}},
   {"data": {"name": "labels"}, "transform": [{"filter": "datum.p == 'p3' && datum.k == 'km'"}], "mark": {"type": "text", "angle": 270, "font": "Liberation Serif", "fontWeight": "bold", "fontSize": 16, "color": "#000"}, "encoding": {"text": {"field": "s"}}},
   {"data": {"name": "labels"}, "transform": [{"filter": "datum.p == 'p3' && datum.k == 'hr'"}], "mark": {"type": "text", "font": "Liberation Serif", "fontWeight": "bold", "fontSize": 16, "color": "#000"}, "encoding": {"text": {"field": "s"}}},
   {"data": {"name": "labels"}, "transform": [{"filter": "datum.p == 'p3' && datum.k == 'nm'"}], "mark": {"type": "text", "font": "Liberation Serif", "fontStyle": "italic", "fontSize": 25, "color": "#333"}, "encoding": {"text": {"field": "s"}}}
  ]
 },
 {"width": 12, "height": 397, "data": {"values": [{"a": 1}]}, "mark": {"type": "point", "opacity": 0}, "encoding": {}, "view": {"stroke": null}},
 {"width": 257, "height": 397,
  "encoding": {
   "x": {"field": "t", "type": "quantitative", "scale": {"domain": [0, 15], "nice": false, "zero": false}, "axis": {"values": [0, 3, 6, 9, 12, 15], "title": null, "labelExpr": "datum.value == 0 ? ['15Z','20DEC','2001'] : datum.value == 3 ? '18Z' : datum.value == 6 ? '21Z' : datum.value == 9 ? ['00Z','21DEC'] : datum.value == 12 ? '03Z' : '06Z'"}},
   "y": {"field": "lat", "type": "quantitative", "scale": {"domain": [21.5, 25.5], "nice": false, "zero": false}, "axis": {"orient": "right", "values": [21.5, 22, 22.5, 23, 23.5, 24, 24.5, 25, 25.5], "title": null, "labels": false, "tickSize": 3}}
  },
  "layer": [
   {"data": {"name": "lines"}, "transform": [{"filter": "datum.p == 'p4'"}], "mark": {"type": "line", "color": "#707070", "strokeWidth": 1, "strokeDash": [1, 2]}, "encoding": {"detail": {"field": "g"}, "order": {"value": null}}},
   {"data": {"name": "labels"}, "transform": [{"filter": "datum.p == 'p4' && datum.k == 'c'"}], "mark": {"type": "text", "font": "DejaVu Serif", "fontStyle": "italic", "fontSize": 12, "color": "#707070"}, "encoding": {"text": {"field": "s"}}},
   {"data": {"name": "arrows"}, "transform": [{"filter": "datum.p == 'p4'"}], "mark": {"type": "rule", "color": "#000", "strokeWidth": 2.5}, "encoding": {"y2": {"field": "lat2"}}},
   {"data": {"name": "arrows"}, "transform": [{"filter": "datum.p == 'p4'"}], "mark": {"type": "rule", "color": "#000", "strokeWidth": 2.5}, "encoding": {"x2": {"field": "t2"}}},
   {"data": {"name": "arrows"}, "transform": [{"filter": "datum.p == 'p4'"}], "mark": {"type": "point", "shape": "M0,0L-0.6,1.8L0.6,1.8Z", "filled": true, "opacity": 1, "color": "#000", "size": 150}, "encoding": {"y": {"field": "lat2", "type": "quantitative"}}},
   {"data": {"name": "arrows"}, "transform": [{"filter": "datum.p == 'p4'"}], "mark": {"type": "point", "shape": "M0,0L-0.6,-1.8L0.6,-1.8Z", "filled": true, "opacity": 1, "color": "#000", "size": 150}},
   {"data": {"name": "arrows"}, "transform": [{"filter": "datum.p == 'p4'"}], "mark": {"type": "point", "shape": "M0,0L1.8,-0.6L1.8,0.6Z", "filled": true, "opacity": 1, "color": "#000", "size": 150}},
   {"data": {"name": "arrows"}, "transform": [{"filter": "datum.p == 'p4'"}], "mark": {"type": "point", "shape": "M0,0L-1.8,-0.6L-1.8,0.6Z", "filled": true, "opacity": 1, "color": "#000", "size": 150}, "encoding": {"x": {"field": "t2", "type": "quantitative"}}},
   {"data": {"name": "labels"}, "transform": [{"filter": "datum.p == 'p4' && datum.k == 'km'"}], "mark": {"type": "text", "angle": 270, "font": "Liberation Serif", "fontWeight": "bold", "fontSize": 16, "color": "#000"}, "encoding": {"text": {"field": "s"}}},
   {"data": {"name": "labels"}, "transform": [{"filter": "datum.p == 'p4' && datum.k == 'hr'"}], "mark": {"type": "text", "font": "Liberation Serif", "fontWeight": "bold", "fontSize": 16, "color": "#000"}, "encoding": {"text": {"field": "s"}}},
   {"data": {"name": "labels"}, "transform": [{"filter": "datum.p == 'p4' && datum.k == 'nm'"}], "mark": {"type": "text", "font": "Liberation Serif", "fontStyle": "italic", "fontSize": 25, "color": "#333"}, "encoding": {"text": {"field": "s"}}}
  ]
 },
 {"width": 31, "height": 397, "data": {"values": [{"a": 1}]}, "mark": {"type": "point", "opacity": 0}, "encoding": {}, "view": {"stroke": null}},
 {"width": 259, "height": 397,
  "title": {"text": "(c)\u00a0\u00a0\u00a0\u00a0\u00a0NOWI", "anchor": "start", "frame": "group", "dx": -38, "offset": -17, "baseline": "alphabetic", "font": "Liberation Serif", "fontSize": 31, "fontWeight": "normal", "color": "#000"},
  "encoding": {
   "x": {"field": "t", "type": "quantitative", "scale": {"domain": [0, 15], "nice": false, "zero": false}, "axis": {"values": [0, 3, 6, 9, 12, 15], "title": null, "labelExpr": "datum.value == 0 ? ['15Z','20DEC','2001'] : datum.value == 3 ? '18Z' : datum.value == 6 ? '21Z' : datum.value == 9 ? ['00Z','21DEC'] : datum.value == 12 ? '03Z' : '06Z'"}},
   "y": {"field": "lat", "type": "quantitative", "scale": {"domain": [21.5, 25.5], "nice": false, "zero": false}, "axis": {"orient": "left", "values": [21.5, 22, 22.5, 23, 23.5, 24, 24.5, 25, 25.5], "title": null, "labelExpr": "datum.value + 'N'", "tickSize": 4, "labelPadding": 5}}
  },
  "layer": [
   {"data": {"name": "lines"}, "transform": [{"filter": "datum.p == 'p5'"}], "mark": {"type": "line", "color": "#707070", "strokeWidth": 1, "strokeDash": [1, 2]}, "encoding": {"detail": {"field": "g"}, "order": {"value": null}}},
   {"data": {"name": "labels"}, "transform": [{"filter": "datum.p == 'p5' && datum.k == 'c'"}], "mark": {"type": "text", "font": "DejaVu Serif", "fontStyle": "italic", "fontSize": 12, "color": "#707070"}, "encoding": {"text": {"field": "s"}}},
   {"data": {"name": "labels"}, "transform": [{"filter": "datum.p == 'p5' && datum.k == 'r30'"}], "mark": {"type": "text", "angle": 35, "font": "DejaVu Serif", "fontStyle": "italic", "fontSize": 12, "color": "#707070"}, "encoding": {"text": {"field": "s"}}},
   {"data": {"name": "arrows"}, "transform": [{"filter": "datum.p == 'p5'"}], "mark": {"type": "rule", "color": "#000", "strokeWidth": 2.5}, "encoding": {"y2": {"field": "lat2"}}},
   {"data": {"name": "arrows"}, "transform": [{"filter": "datum.p == 'p5'"}], "mark": {"type": "rule", "color": "#000", "strokeWidth": 2.5}, "encoding": {"x2": {"field": "t2"}}},
   {"data": {"name": "arrows"}, "transform": [{"filter": "datum.p == 'p5'"}], "mark": {"type": "point", "shape": "M0,0L-0.6,1.8L0.6,1.8Z", "filled": true, "opacity": 1, "color": "#000", "size": 150}, "encoding": {"y": {"field": "lat2", "type": "quantitative"}}},
   {"data": {"name": "arrows"}, "transform": [{"filter": "datum.p == 'p5'"}], "mark": {"type": "point", "shape": "M0,0L-0.6,-1.8L0.6,-1.8Z", "filled": true, "opacity": 1, "color": "#000", "size": 150}},
   {"data": {"name": "arrows"}, "transform": [{"filter": "datum.p == 'p5'"}], "mark": {"type": "point", "shape": "M0,0L1.8,-0.6L1.8,0.6Z", "filled": true, "opacity": 1, "color": "#000", "size": 150}},
   {"data": {"name": "arrows"}, "transform": [{"filter": "datum.p == 'p5'"}], "mark": {"type": "point", "shape": "M0,0L-1.8,-0.6L-1.8,0.6Z", "filled": true, "opacity": 1, "color": "#000", "size": 150}, "encoding": {"x": {"field": "t2", "type": "quantitative"}}},
   {"data": {"name": "labels"}, "transform": [{"filter": "datum.p == 'p5' && datum.k == 'km'"}], "mark": {"type": "text", "angle": 270, "font": "Liberation Serif", "fontWeight": "bold", "fontSize": 16, "color": "#000"}, "encoding": {"text": {"field": "s"}}},
   {"data": {"name": "labels"}, "transform": [{"filter": "datum.p == 'p5' && datum.k == 'hr'"}], "mark": {"type": "text", "font": "Liberation Serif", "fontWeight": "bold", "fontSize": 16, "color": "#000"}, "encoding": {"text": {"field": "s"}}},
   {"data": {"name": "labels"}, "transform": [{"filter": "datum.p == 'p5' && datum.k == 'nm'"}], "mark": {"type": "text", "font": "Liberation Serif", "fontStyle": "italic", "fontSize": 25, "color": "#333"}, "encoding": {"text": {"field": "s"}}}
  ]
 },
 {"width": 12, "height": 397, "data": {"values": [{"a": 1}]}, "mark": {"type": "point", "opacity": 0}, "encoding": {}, "view": {"stroke": null}},
 {"width": 260, "height": 397,
  "encoding": {
   "x": {"field": "t", "type": "quantitative", "scale": {"domain": [0, 15], "nice": false, "zero": false}, "axis": {"values": [0, 3, 6, 9, 12, 15], "title": null, "labelExpr": "datum.value == 0 ? ['15Z','20DEC','2001'] : datum.value == 3 ? '18Z' : datum.value == 6 ? '21Z' : datum.value == 9 ? ['00Z','21DEC'] : datum.value == 12 ? '03Z' : '06Z'"}},
   "y": {"field": "lat", "type": "quantitative", "scale": {"domain": [21.5, 25.5], "nice": false, "zero": false}, "axis": {"orient": "right", "values": [21.5, 22, 22.5, 23, 23.5, 24, 24.5, 25, 25.5], "title": null, "labelExpr": "datum.value + 'N'", "tickSize": 3, "labelPadding": 4}}
  },
  "layer": [
   {"data": {"name": "lines"}, "transform": [{"filter": "datum.p == 'p6'"}], "mark": {"type": "line", "color": "#707070", "strokeWidth": 1, "strokeDash": [1, 2]}, "encoding": {"detail": {"field": "g"}, "order": {"value": null}}},
   {"data": {"name": "labels"}, "transform": [{"filter": "datum.p == 'p6' && datum.k == 'c'"}], "mark": {"type": "text", "font": "DejaVu Serif", "fontStyle": "italic", "fontSize": 12, "color": "#707070"}, "encoding": {"text": {"field": "s"}}},
   {"data": {"name": "labels"}, "transform": [{"filter": "datum.p == 'p6' && datum.k == 'r60'"}], "mark": {"type": "text", "angle": 60, "font": "DejaVu Serif", "fontStyle": "italic", "fontSize": 12, "color": "#707070"}, "encoding": {"text": {"field": "s"}}},
   {"data": {"name": "arrows"}, "transform": [{"filter": "datum.p == 'p6'"}], "mark": {"type": "rule", "color": "#000", "strokeWidth": 2.5}, "encoding": {"y2": {"field": "lat2"}}},
   {"data": {"name": "arrows"}, "transform": [{"filter": "datum.p == 'p6'"}], "mark": {"type": "rule", "color": "#000", "strokeWidth": 2.5}, "encoding": {"x2": {"field": "t2"}}},
   {"data": {"name": "arrows"}, "transform": [{"filter": "datum.p == 'p6'"}], "mark": {"type": "point", "shape": "M0,0L-0.6,1.8L0.6,1.8Z", "filled": true, "opacity": 1, "color": "#000", "size": 150}, "encoding": {"y": {"field": "lat2", "type": "quantitative"}}},
   {"data": {"name": "arrows"}, "transform": [{"filter": "datum.p == 'p6'"}], "mark": {"type": "point", "shape": "M0,0L-0.6,-1.8L0.6,-1.8Z", "filled": true, "opacity": 1, "color": "#000", "size": 150}},
   {"data": {"name": "arrows"}, "transform": [{"filter": "datum.p == 'p6'"}], "mark": {"type": "point", "shape": "M0,0L1.8,-0.6L1.8,0.6Z", "filled": true, "opacity": 1, "color": "#000", "size": 150}},
   {"data": {"name": "arrows"}, "transform": [{"filter": "datum.p == 'p6'"}], "mark": {"type": "point", "shape": "M0,0L-1.8,-0.6L-1.8,0.6Z", "filled": true, "opacity": 1, "color": "#000", "size": 150}, "encoding": {"x": {"field": "t2", "type": "quantitative"}}},
   {"data": {"name": "labels"}, "transform": [{"filter": "datum.p == 'p6' && datum.k == 'km'"}], "mark": {"type": "text", "angle": 270, "font": "Liberation Serif", "fontWeight": "bold", "fontSize": 16, "color": "#000"}, "encoding": {"text": {"field": "s"}}},
   {"data": {"name": "labels"}, "transform": [{"filter": "datum.p == 'p6' && datum.k == 'hr'"}], "mark": {"type": "text", "font": "Liberation Serif", "fontWeight": "bold", "fontSize": 16, "color": "#000"}, "encoding": {"text": {"field": "s"}}},
   {"data": {"name": "labels"}, "transform": [{"filter": "datum.p == 'p6' && datum.k == 'nm'"}], "mark": {"type": "text", "font": "Liberation Serif", "fontStyle": "italic", "fontSize": 25, "color": "#333"}, "encoding": {"text": {"field": "s"}}}
  ]
 }
], "spacing": 10, "bounds": "flush"}
],
"spacing": 18,
"config": {
 "view": {"stroke": "#000", "strokeWidth": 1.5},
 "axis": {"domain": false, "grid": false, "labelFont": "DejaVu Serif", "labelFontStyle": "italic", "labelFontSize": 11, "labelColor": "#222", "tickColor": "#333", "tickSize": 2, "labelPadding": 1, "labelLineHeight": 12, "labelOverlap": false, "labelFlush": false, "labelBound": false},
 "text": {"align": "center", "baseline": "middle"}
}
}
